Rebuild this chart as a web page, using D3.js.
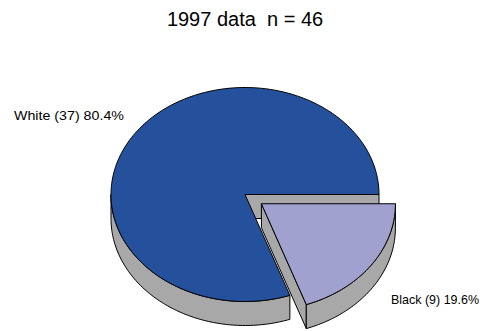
<!DOCTYPE html>
<html>
<head>
<meta charset="utf-8">
<script src="https://cdn.jsdelivr.net/npm/d3@7"></script>
<style>
  html, body { margin: 0; padding: 0; background: #fff; }
  svg { display: block; font-family: Arial, "Liberation Sans", Helvetica, sans-serif; }
</style>
</head>
<body>
<svg id="chart" width="490" height="331"></svg>
<script>
// Race breakdown, 1997
const categories = ["Black", "White"];
const counts = [9, 37];
const title = "1997 data  n = 46";

const sliceFill = { White: "#25509B", Black: "#A1A1D0" };
const sideFill = "#A8A8A8";

const W = 490, H = 331;
const cx = 245, cy = 194.5, rx = 134, ry = 107, depth = 24;
const explode = { Black: 0.15, White: 0 };

const svg = d3.select("#chart");
const total = d3.sum(counts);
const data = categories.map((c, i) => ({ name: c, value: counts[i] }));

// Start at 3 o'clock, going clockwise.
const pie = d3.pie().sort(null).value(d => d.value)
  .startAngle(Math.PI / 2).endAngle(Math.PI / 2 + 2 * Math.PI);
const arcs = pie(data);

// Ellipse projection: d3 pie angle (clockwise from north) -> screen point
const px = (a, ox) => ox + rx * Math.sin(a);
const py = (a, oy) => oy - ry * Math.cos(a);

const line = d3.line().x(d => d[0]).y(d => d[1]);

function arcPoints(a0, a1, ox, oy, dy) {
  const n = Math.max(2, Math.ceil(Math.abs(a1 - a0) / 0.02));
  return d3.range(n + 1).map(i => {
    const a = a0 + (a1 - a0) * i / n;
    return [px(a, ox), py(a, oy) + dy];
  });
}

const order = ["White", "Black"];
order.forEach(name => {
  const d = arcs.find(s => s.data.name === name);
  const mid = (d.startAngle + d.endAngle) / 2;
  const e = explode[name];
  const ox = cx + e * rx * Math.sin(mid);
  const oy = cy - e * ry * Math.cos(mid);
  const g = svg.append("g");

  // radial walls that face the viewer
  const walls = [];
  if (Math.sin(d.startAngle) < 0) walls.push(d.startAngle);
  if (Math.sin(d.endAngle) > 0) walls.push(d.endAngle);
  walls.forEach(a => {
    const pts = [[ox, oy], [px(a, ox), py(a, oy)], [px(a, ox), py(a, oy) + depth], [ox, oy + depth]];
    g.append("path").attr("d", line(pts) + "Z")
      .attr("fill", sideFill).attr("stroke", "#000").attr("stroke-width", 1).attr("stroke-linejoin", "round");
  });

  // front rim
  const r0 = Math.max(d.startAngle, Math.PI / 2);
  const r1 = Math.min(d.endAngle, 3 * Math.PI / 2);
  if (r1 > r0) {
    const top = arcPoints(r0, r1, ox, oy, 0);
    const bot = arcPoints(r1, r0, ox, oy, depth);
    g.append("path").attr("d", line(top.concat(bot)) + "Z")
      .attr("fill", sideFill).attr("stroke", "#000").attr("stroke-width", 1).attr("stroke-linejoin", "round");
  }

  // top face
  const face = [[ox, oy]].concat(arcPoints(d.startAngle, d.endAngle, ox, oy, 0));
  g.append("path").attr("d", line(face) + "Z")
    .attr("fill", sliceFill[name]).attr("stroke", "#000").attr("stroke-width", 1).attr("stroke-linejoin", "round");
});

// Title
svg.append("text")
  .attr("x", 245).attr("y", 26)
  .attr("text-anchor", "middle")
  .style("white-space", "pre")
  .attr("font-size", 20)
  .attr("fill", "#000")
  .text(title);

// Slice labels
const labelPos = { White: { x: 14, y: 120, len: 110 }, Black: { x: 391, y: 304, len: 88 } };
arcs.forEach(d => {
  const p = labelPos[d.data.name];
  const pct = (100 * d.data.value / total).toFixed(1) + "%";
  svg.append("text")
    .attr("x", p.x).attr("y", p.y)
    .attr("font-size", 13)
    .attr("textLength", p.len).attr("lengthAdjust", "spacingAndGlyphs")
    .attr("fill", "#000")
    .text(`${d.data.name} (${d.data.value}) ${pct}`);
});
</script>
</body>
</html>
